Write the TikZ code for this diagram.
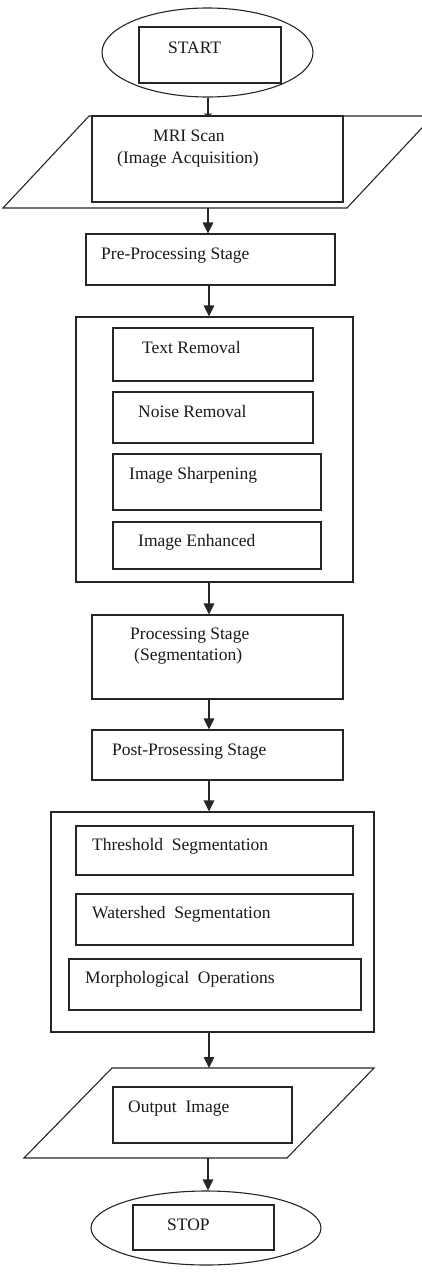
\documentclass[tikz,border=0pt]{standalone}
\usepackage{fontspec}
\setmainfont{Liberation Serif}
\usetikzlibrary{shapes.geometric,arrows.meta}
\tikzset{
  ln/.style={draw=black!85, line width=1.1pt},
  box/.style={ln, rectangle, inner sep=0pt},
  oval/.style={ln, ellipse, inner sep=0pt},
  lbl/.style={anchor=base west, inner sep=0pt, font=\fontsize{17.5}{21}\selectfont, text=black!90},
  arr/.style={ln, -{Triangle[length=11pt,width=10.5pt]}},
  tinyarr/.style={ln, -{Triangle[length=2.5pt,width=9pt]}}
}
\begin{document}
\begin{tikzpicture}[x=1pt,y=-1pt]
\useasboundingbox (0,0) rectangle (421,1277);
\coordinate (col) at (209,0);
% START
\node[oval, minimum width=211pt, minimum height=89pt] (startE) at (207.5,52.5) {};
\node[box, minimum width=142pt, minimum height=56pt] (startR) at (210,55) {};
\node[lbl] (startT) at (168,53) {START};
% MRI parallelogram
\coordinate (mriTop) at (208,116);
\coordinate (mriBot) at (208,208);
\draw[ln] (89,116) -- (433,116) -- (347,208) -- (3,208) -- cycle;
\node[box, minimum width=251pt, minimum height=86pt] (mriR) at (217.5,159) {};
\node[lbl] (mriT1) at (153,141) {MRI Scan};
\node[lbl] (mriT2) at (117,163) {(Image Acquisition)};
% Pre-processing
\node[box, minimum width=249pt, minimum height=51pt] (pre) at (210.5,259.5) {};
\node[lbl] (preT) at (101,259) {Pre-Processing Stage};
% Outer 1
\node[box, minimum width=277pt, minimum height=265pt] (outerA) at (214.5,449.5) {};
\node[box, minimum width=200pt, minimum height=53pt] (tr) at (213,354.5) {};
\node[lbl] (trT) at (142,353) {Text Removal};
\node[box, minimum width=200pt, minimum height=51pt] (nr) at (213,417.5) {};
\node[lbl] (nrT) at (138,417) {Noise Removal};
\node[box, minimum width=208pt, minimum height=56pt] (is) at (217,482) {};
\node[lbl] (isT) at (129,479) {Image Sharpening};
\node[box, minimum width=208pt, minimum height=47pt] (ie) at (217,545.5) {};
\node[lbl] (ieT) at (138,546) {Image Enhanced};
% Processing
\node[box, minimum width=251pt, minimum height=84pt] (proc) at (217.5,657) {};
\node[lbl] (procT1) at (130,639) {Processing Stage};
\node[lbl] (procT2) at (134,660) {(Segmentation)};
% Post
\node[box, minimum width=251pt, minimum height=50pt] (post) at (217.5,755) {};
\node[lbl] (postT) at (112,755) {Post-Prosessing Stage};
% Outer 2
\node[box, minimum width=323pt, minimum height=220pt] (outerB) at (212.5,922) {};
\node[box, minimum width=277pt, minimum height=49pt] (th) at (214.5,850.5) {};
\node[lbl] (thT) at (92,850) {Threshold\ \ Segmentation};
\node[box, minimum width=277pt, minimum height=51pt] (ws) at (214.5,919.5) {};
\node[lbl] (wsT) at (92,918) {Watershed\ \ Segmentation};
\node[box, minimum width=292pt, minimum height=51pt] (mo) at (215,984.5) {};
\node[lbl] (moT) at (85,983) {Morphological\ \ Operations};
% Output parallelogram
\coordinate (outTop) at (209,1068);
\coordinate (outBot) at (208,1158);
\draw[ln] (112,1068) -- (374,1068) -- (287,1158) -- (24,1158) -- cycle;
\node[box, minimum width=179pt, minimum height=56pt] (outR) at (202.5,1115) {};
\node[lbl] (outT) at (128,1112) {Output\ \ Image};
% STOP
\node[oval, minimum width=230pt, minimum height=74pt] (stopE) at (206,1228) {};
\node[box, minimum width=141pt, minimum height=45pt] (stopR) at (203.5,1227.5) {};
\node[lbl] (stopT) at (167,1230) {STOP};
% Connectors
\draw[tinyarr] (startE.south -| mriTop) -- (mriTop);
\draw[arr] (mriBot) -- (mriBot |- pre.north);
\draw[arr] (col |- pre.south) -- (col |- outerA.north);
\draw[arr] (col |- outerA.south) -- (col |- proc.north);
\draw[arr] (col |- proc.south) -- (col |- post.north);
\draw[arr] (col |- post.south) -- (col |- outerB.north);
\draw[arr] (col |- outerB.south) -- (outTop);
\draw[arr] (outBot) -- (outBot |- stopE.north);
\end{tikzpicture}
\end{document}
